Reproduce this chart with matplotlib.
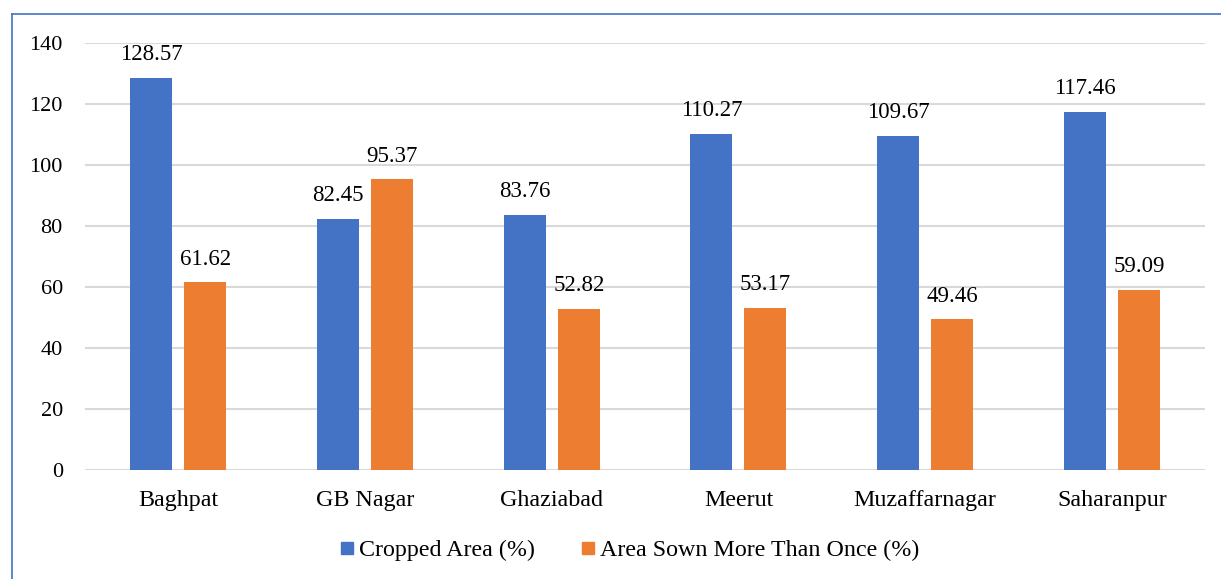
import matplotlib
matplotlib.use("Agg")
import matplotlib.pyplot as plt
import numpy as np
from matplotlib.lines import Line2D

plt.rcParams["font.family"] = ["Liberation Serif", "DejaVu Serif"]

districts = ["Baghpat", "GB Nagar", "Ghaziabad", "Meerut", "Muzaffarnagar", "Saharanpur"]
cropped_area = [128.57, 82.45, 83.76, 110.27, 109.67, 117.46]
sown_more_than_once = [61.62, 95.37, 52.82, 53.17, 49.46, 59.09]
y_ticks = [0, 20, 40, 60, 80, 100, 120, 140]

blue = "#4472C4"
orange = "#ED7D31"
grid_color = "#D9D9D9"

fig = plt.figure(figsize=(12.21, 5.79), dpi=100)
ax = fig.add_axes([0.0696, 0.188, 0.9174, 0.7377])

x = np.arange(len(districts))
width = 0.225
offset = 0.145
b1 = ax.bar(x - offset, cropped_area, width, color=blue, label="Cropped Area (%)", zorder=3)
b2 = ax.bar(x + offset, sown_more_than_once, width, color=orange,
            label="Area Sown More Than Once (%)", zorder=3)

for bars, vals in ((b1, cropped_area), (b2, sown_more_than_once)):
    for rect, v in zip(bars, vals):
        ax.annotate(f"{v:.2f}", (rect.get_x() + rect.get_width() / 2, v),
                    xytext=(0, 9), textcoords="offset points",
                    ha="center", va="bottom", fontsize=16.5)

ax.set_xlim(-0.5, len(districts) - 0.5)
ax.set_ylim(0, 140)
ax.set_yticks(y_ticks)
ax.set_xticks(x)
ax.set_xticklabels(districts)
ax.tick_params(axis="both", length=0)
ax.tick_params(axis="y", pad=16, labelsize=16)
ax.tick_params(axis="x", pad=14, labelsize=17.3)
ax.grid(axis="y", color=grid_color, linewidth=1.5, zorder=0)
for s in ax.spines.values():
    s.set_visible(False)

handles = [Line2D([], [], marker="s", linestyle="none", markersize=8.6, color=blue),
           Line2D([], [], marker="s", linestyle="none", markersize=8.6, color=orange)]
fig.legend(handles, ["Cropped Area (%)", "Area Sown More Than Once (%)"],
           loc="center", bbox_to_anchor=(0.516, 0.050), ncol=2, frameon=False,
           fontsize=17.3, handlelength=0.5, handletextpad=0.25, columnspacing=1.95)

# frame lines on top and left
fig.add_artist(Line2D([12 / 1221, 1], [1 - 14 / 579, 1 - 14 / 579], color="#4472C4",
                      linewidth=1.2, transform=fig.transFigure))
fig.add_artist(Line2D([12 / 1221, 12 / 1221], [0, 1 - 14 / 579], color="#4472C4",
                      linewidth=1.2, transform=fig.transFigure))

fig.savefig("out.png", dpi=100)
